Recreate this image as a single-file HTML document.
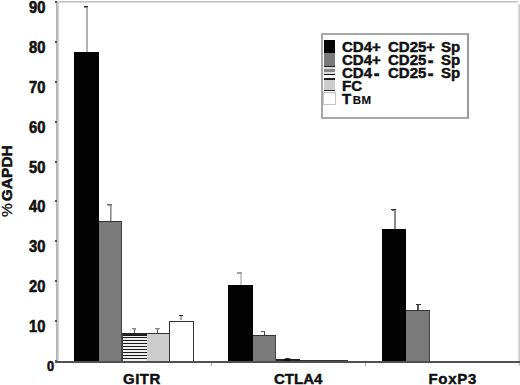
<!DOCTYPE html>
<html><head><meta charset="utf-8"><style>
html,body{margin:0;padding:0;background:#fff;}
body{width:520px;height:385px;position:relative;overflow:hidden;font-family:"Liberation Sans",sans-serif;font-weight:bold;color:#111;}
div{position:absolute;}
.hy{display:inline-block;margin-left:1.5px;transform:translateY(0.8px) scale(1.15,1.3);}
.t,.lg{position:absolute;font-size:15px;line-height:1;white-space:nowrap;-webkit-text-stroke:0.45px #111;}
</style></head><body>
<div style="left:56px;top:1px;width:462px;height:2px;background:linear-gradient(to bottom,#c3c3c3 0,#c3c3c3 1px,#dadada 1px)"></div><div style="left:518px;top:4px;width:2px;height:362px;background:linear-gradient(to right,#dedede 0,#dedede 1px,#cdcdcd 1px)"></div><div style="left:56px;top:1px;width:3px;height:361px;background:linear-gradient(to right,#b2b2b2 0,#b2b2b2 1px,#c0c0c0 1px,#c0c0c0 2px,#d4d4d4 2px)"></div><div style="left:74px;top:52px;width:25px;height:309px;background:#030303"></div><div style="left:99px;top:221px;width:23px;height:140px;background:#7a7a7a;border-top:1.5px solid #333;border-right:1px solid #444;box-sizing:border-box"></div><div style="left:122px;top:333px;width:25px;height:28px;background:repeating-linear-gradient(to bottom,#1a1a1a 0,#1a1a1a 1.2px,#f0f0f0 1.2px,#f0f0f0 3px);background-position:0 2px;border-top:2px solid #222;border-left:1px solid #444;box-sizing:border-box"></div><div style="left:147px;top:333px;width:23px;height:28px;background:#cdcdcd;border-top:1px solid #333;box-sizing:border-box"></div><div style="left:169px;top:321px;width:25px;height:40px;background:#fff;border:1px solid #333;border-bottom:none;box-sizing:border-box"></div><div style="left:228px;top:285px;width:25px;height:76px;background:#030303"></div><div style="left:253px;top:335px;width:23px;height:26px;background:#7a7a7a;border-top:1.5px solid #333;border-right:1px solid #444;box-sizing:border-box"></div><div style="left:276px;top:359px;width:24px;height:2px;background:repeating-linear-gradient(to bottom,#1a1a1a 0,#1a1a1a 1.2px,#f0f0f0 1.2px,#f0f0f0 3px);background-position:0 2px;border-top:2px solid #222;border-left:1px solid #444;box-sizing:border-box"></div><div style="left:300px;top:360px;width:24px;height:1px;background:#cdcdcd;border-top:1px solid #333;box-sizing:border-box"></div><div style="left:324px;top:360px;width:24px;height:1px;background:#fff;border:1px solid #333;border-bottom:none;box-sizing:border-box"></div><div style="left:382px;top:229px;width:24px;height:132px;background:#030303"></div><div style="left:406px;top:310px;width:24px;height:51px;background:#7a7a7a;border-top:1.5px solid #333;border-right:1px solid #444;box-sizing:border-box"></div><div style="left:86px;top:7px;width:2px;height:45px;background:#b2b2b2"></div><div style="left:84px;top:6px;width:4px;height:1px;background:#2a2a2a"></div><div style="left:84px;top:7px;width:4px;height:1px;background:#8a8a8a"></div><div style="left:110px;top:205px;width:1px;height:16px;background:#8a8a8a"></div><div style="left:111px;top:205px;width:1px;height:16px;background:#b8b8b8"></div><div style="left:107px;top:204px;width:5px;height:1px;background:#6a6a6a"></div><div style="left:108px;top:205px;width:4px;height:1px;background:#9a9a9a"></div><div style="left:134px;top:329px;width:1px;height:4px;background:#555"></div><div style="left:132px;top:328px;width:4px;height:1px;background:#8a8a8a"></div><div style="left:133px;top:329px;width:3px;height:1px;background:#999"></div><div style="left:157px;top:329px;width:1px;height:4px;background:#555"></div><div style="left:155px;top:328px;width:5px;height:1px;background:#8a8a8a"></div><div style="left:156px;top:329px;width:3px;height:1px;background:#999"></div><div style="left:180px;top:316px;width:2px;height:4px;background:#b0b0b0"></div><div style="left:179px;top:315px;width:4px;height:1px;background:#2a2a2a"></div><div style="left:240px;top:274px;width:2px;height:11px;background:#cccccc"></div><div style="left:237px;top:272px;width:5px;height:2px;background:#a0a0a0"></div><div style="left:264px;top:332px;width:1px;height:3px;background:#444"></div><div style="left:261px;top:331px;width:4px;height:1px;background:#555"></div><div style="left:394px;top:210px;width:2px;height:19px;background:#8a8a8a"></div><div style="left:391px;top:209px;width:5px;height:1px;background:#2a2a2a"></div><div style="left:392px;top:210px;width:2px;height:1px;background:#777"></div><div style="left:417px;top:305px;width:2px;height:5px;background:#555"></div><div style="left:416px;top:304px;width:5px;height:1px;background:#333"></div><div style="left:284px;top:357.5px;width:7px;height:3px;border-radius:50%;background:#111"></div><div style="left:55px;top:361px;width:465px;height:2px;background:#505050"></div><div style="left:211px;top:363px;width:1px;height:3px;background:#aaa"></div><div style="left:365px;top:363px;width:1px;height:3px;background:#aaa"></div><div style="left:55px;top:360px;width:2px;height:2px;background:#555"></div><div style="left:55px;top:320px;width:2px;height:2px;background:#555"></div><div style="left:55px;top:280px;width:2px;height:2px;background:#555"></div><div style="left:55px;top:240px;width:2px;height:2px;background:#555"></div><div style="left:55px;top:200px;width:2px;height:2px;background:#555"></div><div style="left:55px;top:161px;width:2px;height:2px;background:#555"></div><div style="left:55px;top:121px;width:2px;height:2px;background:#555"></div><div style="left:55px;top:81px;width:2px;height:2px;background:#555"></div><div style="left:55px;top:41px;width:2px;height:2px;background:#555"></div><div style="left:55px;top:1px;width:2px;height:2px;background:#555"></div>
<span class="t" style="right:474.5px;top:319px;font-size:15.6px;transform:scaleX(0.94);transform-origin:100% 0;-webkit-text-stroke:0.6px #111">10</span><span class="t" style="right:474.5px;top:279px;font-size:15.6px;transform:scaleX(0.94);transform-origin:100% 0;-webkit-text-stroke:0.6px #111">20</span><span class="t" style="right:474.5px;top:239px;font-size:15.6px;transform:scaleX(0.94);transform-origin:100% 0;-webkit-text-stroke:0.6px #111">30</span><span class="t" style="right:474.5px;top:199px;font-size:15.6px;transform:scaleX(0.94);transform-origin:100% 0;-webkit-text-stroke:0.6px #111">40</span><span class="t" style="right:474.5px;top:160px;font-size:15.6px;transform:scaleX(0.94);transform-origin:100% 0;-webkit-text-stroke:0.6px #111">50</span><span class="t" style="right:474.5px;top:120px;font-size:15.6px;transform:scaleX(0.94);transform-origin:100% 0;-webkit-text-stroke:0.6px #111">60</span><span class="t" style="right:474.5px;top:80px;font-size:15.6px;transform:scaleX(0.94);transform-origin:100% 0;-webkit-text-stroke:0.6px #111">70</span><span class="t" style="right:474.5px;top:40px;font-size:15.6px;transform:scaleX(0.94);transform-origin:100% 0;-webkit-text-stroke:0.6px #111">80</span><span class="t" style="right:474.5px;top:0px;font-size:15.6px;transform:scaleX(0.94);transform-origin:100% 0;-webkit-text-stroke:0.6px #111">90</span><span class="t" style="left:46.5px;top:358.7px;font-size:14.2px;transform:scaleX(0.9);transform-origin:0 0;-webkit-text-stroke:0.6px #111">0</span>
<span class="t" style="left:-1px;top:217px;font-size:15.5px;transform-origin:0 0;transform:rotate(-90deg);-webkit-text-stroke:0.5px #111"><span style="font-weight:normal;-webkit-text-stroke:0.3px #111;letter-spacing:2px">%</span>GAPDH</span>
<span class="t" style="left:123px;top:370.5px;letter-spacing:0.5px">GITR</span>
<span class="t" style="left:274px;top:370.5px">CTLA4</span>
<span class="t" style="left:428.5px;top:370.5px;letter-spacing:0.7px">FoxP3</span>
<div style="left:321px;top:33px;width:148px;height:86px;border:2px solid #a8a8a8;border-right-color:#9a9a9a;box-sizing:border-box;background:#fff"></div>
<div style="left:324px;top:40px;width:11px;height:13px;background:#050505"></div>
<div style="left:324px;top:53px;width:11px;height:27px;background:linear-gradient(to bottom,#7a7a7a 0,#7a7a7a 13px,#222 13px,#222 14.5px,#ddd 14.5px,#ddd 16.3px,#8a8a8a 16.3px,#8a8a8a 19.5px,#ddd 19.5px,#ddd 21px,#111 21px,#111 22px,#fff 22px,#fff 25.4px,#222 25.4px,#222 26.7px,#cdcdcd 26.7px)"></div>
<div style="left:324px;top:80px;width:11px;height:11px;background:linear-gradient(to bottom,#cdcdcd 0,#cdcdcd 9.7px,#222 9.7px)"></div>
<div style="left:323px;top:92px;width:13px;height:13px;background:#fff;border:1px solid #c4c4c4;box-sizing:border-box"></div>
<span class="lg" style="left:342px;top:39px">CD4+</span><span class="lg" style="left:388px;top:39px">CD25+</span><span class="lg" style="left:441px;top:39px">Sp</span>
<span class="lg" style="left:342px;top:52px">CD4+</span><span class="lg" style="left:388px;top:52px">CD25<span class="hy">-</span></span><span class="lg" style="left:441px;top:52px">Sp</span>
<span class="lg" style="left:342px;top:65px">CD4<span class="hy">-</span></span><span class="lg" style="left:388px;top:65px">CD25<span class="hy">-</span></span><span class="lg" style="left:441px;top:65px">Sp</span>
<span class="lg" style="left:342px;top:78px">FC</span>
<span class="lg" style="left:342px;top:91px">T<span style="font-size:11.5px;margin-left:1.5px;letter-spacing:0.6px;-webkit-text-stroke:0.2px #111">BM</span></span>
</body></html>
